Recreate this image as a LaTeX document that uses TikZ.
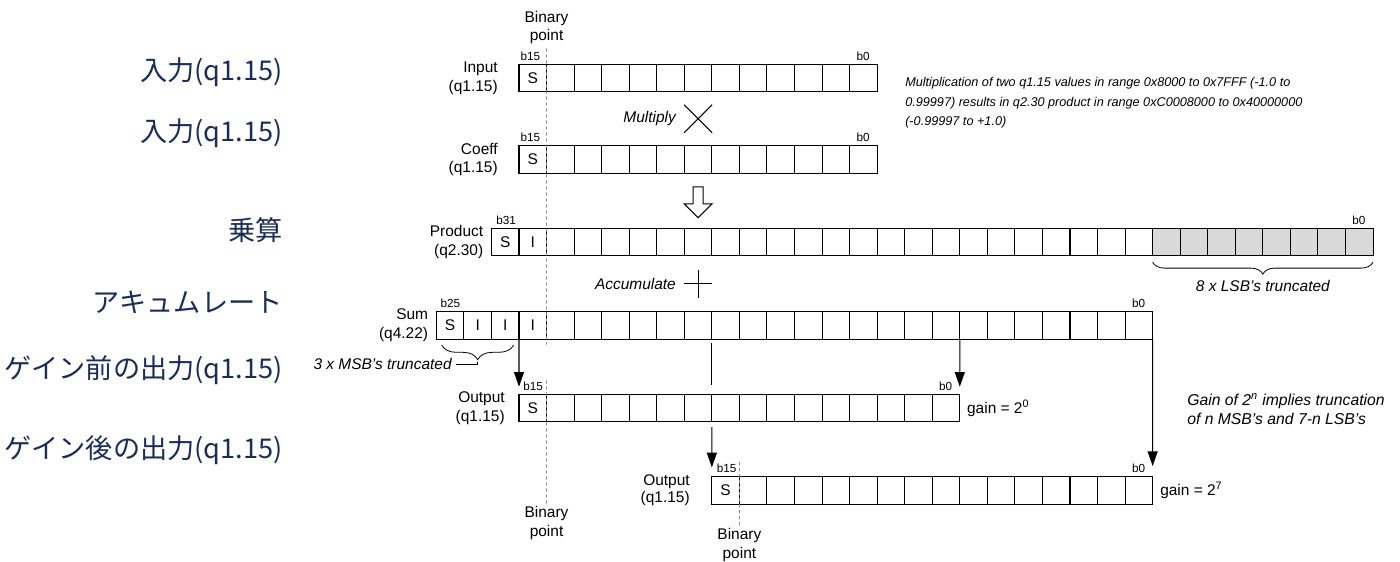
\documentclass[tikz,border=0pt]{standalone}
\usepackage{fontspec}
\setmainfont{Liberation Sans}
\newfontfamily\jpfont{Noto Sans CJK JP}
\usetikzlibrary{positioning,arrows.meta,calc,decorations.pathreplacing}
\definecolor{QFnavy}{HTML}{1A2D5A}
\definecolor{QFdash}{HTML}{8A8A8A}
\definecolor{QFtrunc}{HTML}{D9D9D9}
\newcommand{\fsmain}{\fontsize{11.6pt}{14pt}\selectfont}
\newcommand{\fsbit}{\fontsize{8.8pt}{10pt}\selectfont}
\newcommand{\fsnote}{\fontsize{9.5pt}{14.6pt}\selectfont}
\newcommand{\fsjp}{\jpfont\fontsize{20.4pt}{24pt}\selectfont}

\begin{document}
\begin{tikzpicture}[x=0.75pt, y=-0.75pt,
  cell/.style={draw, line width=0.8pt, minimum size=20.66pt, inner sep=0pt, outer sep=0pt, font=\fsmain},
  celltxt/.style={font=\fsmain, inner sep=0pt},
  bitlab/.style={font=\fsbit, inner sep=0pt},
  rowlab/.style={font=\fsmain, align=right, inner sep=0pt, anchor=east},
  jplab/.style={font=\fsjp, text=QFnavy, anchor=east, inner sep=0pt},
  note/.style={font=\fsnote\itshape, align=left, inner sep=0pt},
  remark/.style={font=\fsmain\itshape, inner sep=0pt},
  bpline/.style={dash pattern=on 2.5pt off 2pt, QFdash, line width=0.6pt},
  flow/.style={-{Triangle[length=11pt,width=7.5pt]}, line width=0.8pt},
  sym/.style={line width=0.8pt},
  curly/.style={decorate, line width=0.6pt, decoration={brace, mirror, amplitude=#1}}]
\useasboundingbox (0,0) rectangle (1400,561);

% bit rows
\foreach \row/\lx/\ty/\n in {in/519/64.3/13, cf/519/145.7/13, prod/491.45/228.3/32,
    sum/436.35/311.7/26, outa/519/394.3/16, outb/711.85/476.7/16}
  \foreach \k in {1,...,\n}
    \node[cell] (\row-\k) at ({\lx+(\k-0.5)*27.55}, \ty+13.78) {};
\foreach \k in {25,...,32}
  \node[cell, fill=QFtrunc] (prod-\k) at (prod-\k.center) {};

% cell contents
\node[celltxt] (in-s) at (in-1) {S};
\node[celltxt] (cf-s) at (cf-1) {S};
\node[celltxt] (prod-s) at (prod-1) {S};
\node[celltxt] (prod-i) at (prod-2) {I};
\foreach \k/\t in {1/S,2/I,3/I,4/I}
  \node[celltxt] (sum-t\k) at (sum-\k) {\t};
\node[celltxt] (outa-s) at (outa-1) {S};
\node[celltxt] (outb-s) at (outb-1) {S};

% bit numbers
\node[bitlab, anchor=south west] (in-msb) at ([xshift=1pt,yshift=2.5pt]in-1.north west) {b15};
\node[bitlab, anchor=south east] (in-lsb) at ([xshift=-5.5pt,yshift=2.5pt]in-13.north east) {b0};
\node[bitlab, anchor=south west] (cf-msb) at ([xshift=1pt,yshift=2.5pt]cf-1.north west) {b15};
\node[bitlab, anchor=south east] (cf-lsb) at ([xshift=-5.5pt,yshift=2.5pt]cf-13.north east) {b0};
\node[bitlab, anchor=south west] (prod-msb) at ([xshift=3.5pt,yshift=2.5pt]prod-1.north west) {b31};
\node[bitlab, anchor=south east] (prod-lsb) at ([xshift=-5.5pt,yshift=2.5pt]prod-32.north east) {b0};
\node[bitlab, anchor=south west] (sum-msb) at ([xshift=3pt,yshift=2.5pt]sum-1.north west) {b25};
\node[bitlab, anchor=south east] (sum-lsb) at ([xshift=-5.5pt,yshift=2.5pt]sum-26.north east) {b0};
\node[bitlab, anchor=south west] (outa-msb) at ([xshift=3pt,yshift=2.5pt]outa-1.north west) {b15};
\node[bitlab, anchor=south east] (outa-lsb) at ([xshift=-5.5pt,yshift=2.5pt]outa-16.north east) {b0};
\node[bitlab, anchor=south west] (outb-msb) at ([xshift=3.5pt,yshift=2.5pt]outb-1.north west) {b15};
\node[bitlab, anchor=south east] (outb-lsb) at ([xshift=-5.5pt,yshift=2.5pt]outb-16.north east) {b0};

% row names
\node[rowlab] (in-lab) at ([xshift=-15.8pt]in-1.west) {Input\\(q1.15)};
\node[rowlab] (cf-lab) at ([xshift=-15.8pt]cf-1.west) {Coeff\\(q1.15)};
\node[rowlab] (prod-lab) at ([xshift=-6pt]prod-1.west) {Product\\(q2.30)};
\node[rowlab] (sum-lab) at ([xshift=-6pt]sum-1.west) {Sum\\(q4.22)};
\node[rowlab] (outa-lab) at ([xshift=-10.5pt]outa-1.west) {Output\\(q1.15)};
\node[rowlab, font=\fontsize{11.6pt}{12.5pt}\selectfont] (outb-lab) at ([xshift=-16.4pt]outb-1.west) {Output\\(q1.15)};

\node[jplab] (jp-in) at (283,72) {入力(q1.15)};
\node[jplab] (jp-cf) at (283,133) {入力(q1.15)};
\node[jplab] (jp-prod) at (283,230) {乗算};
\node[jplab] (jp-sum) at (283,302) {アキュムレート};
\node[jplab] (jp-outa) at (283,370) {ゲイン前の出力(q1.15)};
\node[jplab] (jp-outb) at (283,450) {ゲイン後の出力(q1.15)};

% binary points
\node[font=\fsmain, align=center, inner sep=0pt] (bp-top) at (546.55,27.5) {Binary\\point};
\draw[bpline] ([yshift=-3pt]bp-top.south) -- ([yshift=-4pt]sum-4.south east);
\node[font=\fsmain, align=center, inner sep=0pt] (bp-outa) at (546.55,523) {Binary\\point};
\draw[bpline] ([yshift=10.5pt]outa-1.north east) -- ([yshift=1pt]bp-outa.north);
\node[font=\fsmain, align=center, inner sep=0pt] (bp-outb) at (739.4,545) {Binary\\point};
\draw[bpline] ([yshift=11pt]outb-1.north east) -- ([yshift=1pt]bp-outb.north);

% multiply
\coordinate (mulc) at ($(in-7.south)!0.5!(cf-7.north)$);
\draw[sym] (mulc) ++(-14,-14) -- ++(28,28) (mulc) ++(-14,14) -- ++(28,-28);
\node[remark, anchor=east] (mul-lab) at ([xshift=-16.5pt]mulc) {Multiply};
\node[note, anchor=west] (mul-note) at (905,103)
  {Multiplication of two q1.15 values in range 0x8000 to 0x7FFF (-1.0 to\\
   0.99997) results in q2.30 product in range 0xC0008000 to 0x40000000\\
   (-0.99997 to +1.0)};

% hollow arrow
\coordinate (hol) at ($(cf-7.south)!0.5!(prod-8.north)$);
\draw[sym, fill=white] (hol) ++(-5,-14) -- ++(10,0) -- ++(0,17) -- ++(9,0)
  -- ++(-14,14) -- ++(-14,-14) -- ++(9,0) -- cycle;

% accumulate
\coordinate (accc) at ($(prod-8.south)!0.5!(sum-10.north)$);
\draw[sym] (accc) ++(-14,0) -- ++(28,0) (accc) ++(0,-14) -- ++(0,28);
\node[remark, anchor=east] (acc-lab) at ([xshift=-16.5pt]accc) {Accumulate};

% truncation braces
\draw[curly=9pt] ([yshift=-4.7pt]prod-25.south west) -- ([yshift=-4.7pt]prod-32.south east);
\coordinate (lsbtip) at ($(prod-25.south west)!0.5!(prod-32.south east)+(0,18.3)$);
\node[remark, anchor=north] (lsb-lab) at ([yshift=-4.5pt]lsbtip) {8 x LSB's truncated};

\draw[curly=11pt] ([xshift=4pt,yshift=-4.3pt]sum-1.south west) -- ([xshift=-4pt,yshift=-4.3pt]sum-3.south east);
\coordinate (msbtip) at ($(sum-1.south west)!0.5!(sum-3.south east)+(0,25)$);
\node[remark, anchor=east] (msb-lab) at ([xshift=-19.3pt]msbtip) {3 x MSB's truncated};
\draw[sym, line width=0.6pt] ([yshift=2pt]msbtip) |- ([xshift=3pt]msb-lab.east);

% sum to outputs
\draw[flow, shorten >=5.7pt] (sum-3.south east) -- (outa-1.north west);
\draw[flow, shorten >=5.7pt] (sum-19.south east) -- (outa-16.north east);
\draw[sym, shorten <=3pt] (sum-10.south east) -- ([yshift=7pt]outa-7.north east);
\draw[flow, shorten >=7pt] ([yshift=-4pt]outa-7.south east) -- (outb-1.north west);
\draw[flow, shorten >=8pt] (sum-26.south east) -- (outb-16.north east);

% gains
\node[font=\fsmain, anchor=west, inner sep=0pt] (outa-gain) at ([xshift=5.3pt]outa-16.east) {gain = 2\textsuperscript{0}};
\node[font=\fsmain, anchor=west, inner sep=0pt] (outb-gain) at ([xshift=5.5pt]outb-16.east) {gain = 2\textsuperscript{7}};
\node[remark, align=left, anchor=west, font=\fontsize{11.8pt}{14.3pt}\selectfont\itshape] (gain-note) at (1187,409)
  {Gain of 2\textsuperscript{n} implies truncation\\of n MSB's and 7-n LSB's};
\end{tikzpicture}
\end{document}
